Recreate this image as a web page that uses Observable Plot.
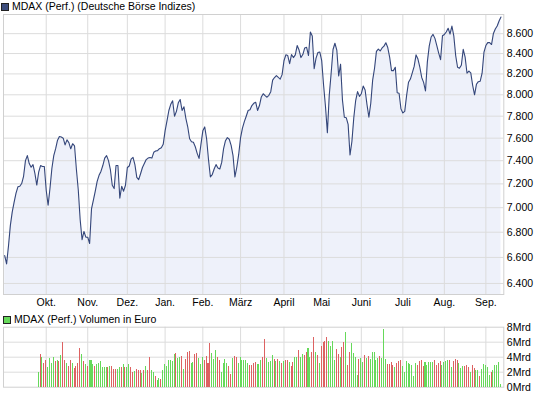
<!DOCTYPE html>
<html>
<head>
<meta charset="utf-8">
<script src="https://cdn.jsdelivr.net/npm/d3@7"></script>
<script src="https://cdn.jsdelivr.net/npm/@observablehq/plot@0.6"></script>
<style>
  html, body { margin: 0; padding: 0; background: #fff; }
  #wrap { position: relative; width: 545px; height: 395px; overflow: hidden;
          font-family: 'Liberation Sans', Arial, sans-serif; font-size: 10.5px; color: #000; }
  .leg { position: absolute; left: 1px; line-height: 12px; white-space: nowrap; }
  .sq { display: inline-block; width: 6px; height: 6px; border: 1px solid #222; vertical-align: -1px; margin-right: 3px; }
  svg { position: absolute; left: 0; }
</style>
</head>
<body>
<div id="wrap">
  <div class="leg" style="top:-0.5px"><span class="sq" style="background:#3d4d7d"></span>MDAX (Perf.) (Deutsche Börse Indizes)</div>
  <div class="leg" style="top:312.5px;left:3px"><span class="sq" style="background:#66d95a"></span>MDAX (Perf.) Volumen in Euro</div>
</div>
<script>
// ---- data ----
const monthIdx = [22, 44, 65, 85, 105, 125, 148, 168, 189, 211, 233, 255];
const monthLabels = ["Okt.", "Nov.", "Dez.", "Jan.", "Feb.", "März", "April", "Mai", "Juni", "Juli", "Aug.", "Sep."];
const priceTicks = [6400, 6600, 6800, 7000, 7200, 7400, 7600, 7800, 8000, 8200, 8400, 8600];
const volTicks = [0, 2, 4, 6, 8];

// MDAX closing values, one per trading day
const price = [
  6615,6550,6690,6855,6966,7046,7121,7175,7180,7203,
  7265,7401,7445,7375,7343,7366,7290,7190,7300,7358,
  7350,7350,7146,7020,7163,7332,7445,7506,7582,7615,
  7610,7600,7540,7585,7560,7505,7550,7532,7323,7146,
  6900,6740,6806,6760,6760,6710,6990,7063,7138,7222,
  7273,7307,7358,7423,7445,7401,7323,7188,7160,7358,
  7358,7080,7180,7138,7188,7341,7354,7414,7430,7366,
  7256,7236,7287,7341,7375,7410,7423,7428,7423,7474,
  7485,7489,7506,7515,7545,7666,7757,7853,7910,7943,
  7800,7845,7925,7955,7853,7888,7780,7702,7595,7568,
  7563,7523,7465,7420,7545,7666,7702,7595,7410,7260,
  7280,7328,7366,7337,7328,7385,7506,7577,7605,7590,
  7536,7445,7260,7343,7455,7605,7690,7750,7800,7853,
  7860,7899,7920,7930,7853,7899,7980,8010,7992,7977,
  7995,8030,8140,8165,8183,8166,8150,8193,8329,8387,
  8380,8300,8390,8360,8387,8480,8435,8360,8390,8456,
  8462,8380,8617,8577,8250,8355,8410,8415,8329,8091,
  7890,7650,7995,8207,8440,8503,8435,8180,8295,7950,
  7790,7786,7725,7450,7570,7786,7946,8030,7985,8010,
  8083,8045,7908,7790,7920,8140,8255,8422,8445,8426,
  8456,8474,8508,8460,8365,8232,8232,8265,8020,8015,
  7868,7830,7845,7995,8120,8150,8210,8273,8387,8345,
  8265,8166,8118,8036,8320,8476,8566,8592,8552,8480,
  8404,8340,8578,8592,8617,8655,8596,8678,8577,8380,
  8265,8256,8285,8442,8365,8207,8228,8210,8090,8000,
  8100,8125,8130,8207,8415,8480,8509,8509,8490,8602,
  8648,8678,8730,8770
];

// volume in billions of euro, starting at trading day volStart
const volStart = 18;
const vol = [
  1.9,4.35,3.9,3.1,3.6,2.6,3.8,3.2,3.9,3.4, 3.6,3.4,4.2,6.0,3.6,3.1,2.7,3.5,3.2,2.5,
  2.7,3.1,5.2,4.35,3.4,3.0,2.7,3.5,3.5,3.0, 2.7,3.0,3.1,3.4,2.6,2.6,2.6,2.6,2.7,2.7,
  2.3,2.3,2.4,2.6,2.6,3.0,2.6,2.6,3.0,2.6, 2.0,2.1,2.4,2.2,2.2,1.8,2.2,2.8,2.2,
  4.0,2.2,1.9,1.4,0.9,1.1,1.0,2.2,3.0,2.8, 3.6,3.6,3.4,4.35,4.5,3.8,3.9,4.1,2.4,3.7,
  4.6,4.8,3.1,3.3,4.35,4.5,3.8,3.0,4.0,3.6, 4.1,3.2,5.8,4.5,3.7,4.9,3.9,3.6,2.0,3.2,
  3.7,3.1,2.8,1.7,3.8,4.1,4.0,3.2,4.0,3.6, 3.6,3.6,3.2,2.9,2.9,3.2,3.3,3.0,3.0,3.6,
  4.0,6.3,3.8,
  3.3,3.4,4.2,3.7,3.4,3.7,3.4,3.1,3.4,3.6, 3.5,3.3,2.75,3.3,3.95,3.95,4.9,4.0,4.35,4.2,
  4.6,5.15,3.95,4.6,6.6,4.6,4.2,3.15,5.4,5.9, 6.1,6.6,6.1,5.4,6.1,3.6,5.0,4.35,3.95,5.3,
  5.95,7.3,2.9,4.6,5.8,4.5,3.95,1.55,3.7,3.8, 3.3,4.2,3.8,4.1,3.7,4.6,4.6,3.6,3.8,4.1,
  3.8,
  7.7,3.7,3.0,3.0,3.3,2.9,2.6,3.2,3.4,3.6, 2.75,1.95,3.4,3.1,3.0,2.9,1.4,3.1,2.9,3.4,
  3.6,2.75,3.3,2.9,3.3,3.3,3.3,3.6,2.9,3.2, 3.4,2.9,3.3,3.4,3.6,3.6,2.6,3.4,3.7,3.6,
  3.15,2.5,2.75,2.75,2.9,2.6,1.95,2.9,2.5,2.2, 2.2,1.4,2.35,3.0,2.9,2.6,1.55,1.95,2.2,2.9,
  2.9,3.3,0.35
];
// 1 = up day (green), 0 = down day (red)
const volUp = [
  1,0,1,0,0,1,1,1,1,0, 1,0,1,0,0,1,0,0,1,0, 0,0,0,1,0,1,0,1,1,1, 0,1,1,1,1,1,1,0,1,0,
  0,0,1,1,0,1,0,1,1,0, 0,1,0,0,0,1,0,1,0,
  0,1,1,0,1,1,0,1,1,1, 1,1,1,1,0,1,1,0,1,0, 0,0,1,1,0,0,1,1,1,0, 0,0,0,1,1,1,0,0,1,1,
  1,1,0,0,1,0,0,1,1,1, 1,1,1,0,0,0,0,1,1,1, 0,0,1,
  1,1,1,0,1,0,1,0,1,0, 0,1,0,0,1,1,0,1,1,0, 0,1,1,0,0,1,0,1,0,0, 0,0,1,1,1,1,0,0,1,0,
  0,1,0,0,1,1,1,1,0,1, 1,0,1,0,1,1,1,1,1,0, 1,
  1,1,0,0,0,0,1,0,0,0, 1,1,1,1,1,1,1,1,0,0, 0,0,1,1,1,1,1,0,0,0, 0,1,1,1,1,0,1,0,0,0,
  1,1,1,0,0,0,1,0,0,1, 1,0,1,1,1,1,1,0,1,1, 1,1,1
];

// ---- tables ----
const priceData = price.map((v, i) => ({i, v}));
const volData = vol.map((v, k) => ({i: volStart + k, v, up: volUp[k]}));

const xDomain = [-0.64, 264.5];
const yDomain = [6317, 8797];
const grid = "#dcdcdc";
const font = {fontFamily: "'Liberation Sans', Arial, sans-serif", fontSize: "10.5px", color: "#000", background: "transparent", overflow: "visible"};
const monthFmt = d => monthLabels[monthIdx.indexOf(d)];
const priceFmt = d => d3.format(",")(d).replace(",", ".");

const priceChart = Plot.plot({
  width: 545, height: 315,
  marginTop: 14, marginBottom: 21, marginLeft: 3, marginRight: 41.7,
  style: font,
  x: {type: "linear", domain: xDomain, axis: null, label: null},
  y: {type: "log", domain: yDomain, axis: null, label: null},
  marks: [
    Plot.areaY(priceData, {x: "i", y1: yDomain[0], y2: "v", fill: "#eef1fa"}),
    Plot.gridX(monthIdx, {stroke: grid, strokeOpacity: 1}),
    Plot.gridY(priceTicks, {stroke: grid, strokeOpacity: 1}),
    Plot.frame({stroke: "#d0d0d0"}),
    Plot.lineY(priceData, {x: "i", y: "v", stroke: "#34467a", strokeWidth: 1.1}),
    Plot.text(priceTicks, {y: d => d, text: priceFmt, frameAnchor: "right", textAnchor: "start", dx: 3, fill: "#000"}),
    Plot.axisX(monthIdx, {anchor: "bottom", tickSize: 0, tickPadding: 4, tickFormat: monthFmt, label: null})
  ]
});
priceChart.style.top = "0px";

const volChart = Plot.plot({
  width: 545, height: 85,
  marginTop: 16.7, marginBottom: 8.3, marginLeft: 3, marginRight: 41.7,
  style: font,
  x: {type: "linear", domain: xDomain, axis: null, label: null},
  y: {domain: [0, 8], axis: null, label: null},
  marks: [
    Plot.gridX(monthIdx, {stroke: grid, strokeOpacity: 1}),
    Plot.gridY([2, 4, 6], {stroke: grid, strokeOpacity: 1}),
    Plot.frame({stroke: "#d0d0d0"}),
    Plot.rectY(volData, {x1: d => d.i - 0.27, x2: d => d.i + 0.27, y: "v",
      fill: d => d.up ? "#66d95a" : "#dd6262", shapeRendering: "crispEdges"}),
    Plot.text(volTicks, {y: d => d, text: d => d + "Mrd", frameAnchor: "right", textAnchor: "start", dx: 3, fill: "#000"})
  ]
});
volChart.style.top = "310px";

const wrap = document.getElementById("wrap");
wrap.appendChild(priceChart);
wrap.appendChild(volChart);
</script>
</body>
</html>
